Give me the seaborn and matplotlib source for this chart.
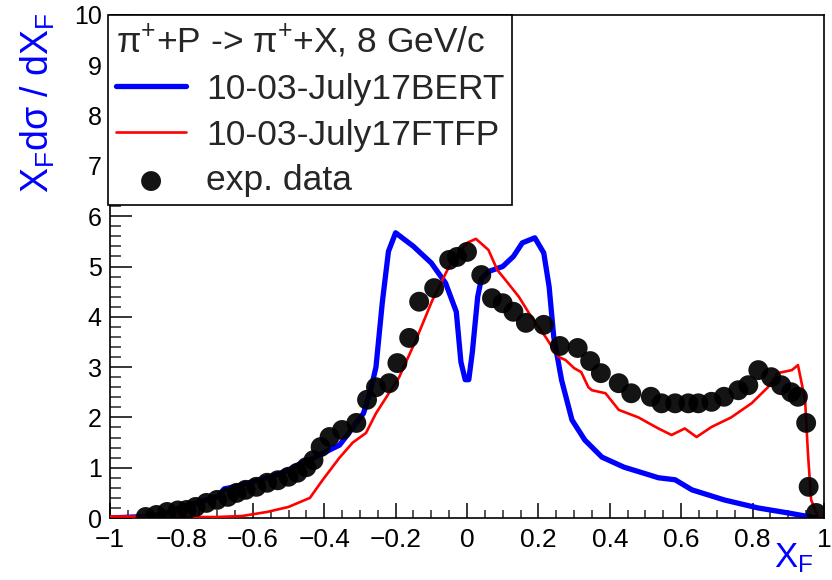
import matplotlib
matplotlib.use("Agg")
import matplotlib.pyplot as plt
import seaborn as sns
import pandas as pd
from matplotlib.ticker import MultipleLocator, FixedLocator

# ---------------- data ----------------
bert_x = [-1.0, -0.9, -0.85, -0.8, -0.75, -0.7, -0.68, -0.65, -0.6, -0.55, -0.5, -0.47, -0.45,
          -0.4, -0.357, -0.33, -0.29, -0.27, -0.255, -0.237, -0.22, -0.2, -0.15, -0.1, -0.06,
          -0.03, -0.017, -0.005, 0.005, 0.015, 0.03, 0.04, 0.06, 0.1, 0.13, 0.155, 0.19, 0.215,
          0.23, 0.243, 0.265, 0.294, 0.33, 0.378, 0.44, 0.5, 0.536, 0.583, 0.63, 0.72, 0.815,
          0.9, 0.955, 0.98]
bert_y = [0.0, 0.03, 0.08, 0.22, 0.32, 0.42, 0.58, 0.62, 0.72, 0.82, 0.95, 1.07, 1.12,
          1.3, 1.45, 1.7, 2.08, 2.54, 3.0, 4.3, 5.3, 5.67, 5.4, 5.07, 4.67,
          4.1, 3.1, 2.75, 2.75, 3.3, 4.4, 4.75, 4.9, 5.0, 5.2, 5.47, 5.57, 5.27,
          4.6, 3.6, 2.74, 1.95, 1.55, 1.21, 1.01, 0.88, 0.8, 0.76, 0.56, 0.36, 0.2,
          0.1, 0.03, 0.0]

ftfp_x = [-1.0, -0.9, -0.8, -0.7, -0.63, -0.56, -0.5, -0.44, -0.405, -0.357, -0.32, -0.283,
          -0.255, -0.19, -0.143, -0.097, -0.05, 0.0, 0.025, 0.06, 0.085, 0.108, 0.145, 0.18,
          0.22, 0.257, 0.276, 0.3, 0.32, 0.34, 0.35, 0.388, 0.425, 0.48, 0.536, 0.573, 0.61,
          0.643, 0.685, 0.74, 0.797, 0.843, 0.87, 0.91, 0.927, 0.947, 0.955, 0.964, 0.983]
ftfp_y = [0.03, 0.03, 0.02, 0.02, 0.04, 0.12, 0.22, 0.4, 0.75, 1.2, 1.5, 1.69,
          2.08, 2.8, 3.54, 4.33, 5.0, 5.47, 5.55, 5.33, 4.93, 4.73, 4.4, 4.0,
          3.6, 3.2, 3.14, 2.98, 2.9, 2.6, 2.54, 2.48, 2.15, 2.0, 1.78, 1.65, 1.78,
          1.61, 1.81, 2.0, 2.28, 2.6, 2.88, 2.94, 3.04, 2.35, 1.29, 0.36, 0.02]

exp_x = [-0.90, -0.87, -0.84, -0.81, -0.785, -0.76, -0.73, -0.70, -0.67, -0.645, -0.62, -0.59,
         -0.56, -0.53, -0.50, -0.475, -0.45, -0.43, -0.41, -0.385, -0.35, -0.31, -0.28, -0.255,
         -0.218, -0.195, -0.162, -0.134, -0.092, -0.05, -0.028, 0.0, 0.04, 0.07, 0.10, 0.13,
         0.165, 0.215, 0.26, 0.31, 0.345, 0.375, 0.425, 0.46, 0.515, 0.545, 0.583, 0.62, 0.648,
         0.685, 0.72, 0.76, 0.788, 0.816, 0.852, 0.88, 0.908, 0.927, 0.95, 0.957, 0.978]
exp_y = [0.02, 0.06, 0.12, 0.15, 0.16, 0.22, 0.3, 0.36, 0.42, 0.5, 0.56, 0.62,
         0.7, 0.75, 0.82, 0.9, 1.01, 1.15, 1.41, 1.61, 1.75, 1.89, 2.35, 2.6,
         2.68, 3.08, 3.58, 4.3, 4.57, 5.13, 5.19, 5.29, 4.83, 4.37, 4.27, 4.1,
         3.88, 3.84, 3.42, 3.38, 3.12, 2.88, 2.68, 2.48, 2.41, 2.28, 2.28, 2.28, 2.28,
         2.31, 2.41, 2.54, 2.64, 2.94, 2.8, 2.64, 2.5, 2.41, 1.89, 0.62, 0.1]

x_ticks = [-1, -0.8, -0.6, -0.4, -0.2, 0, 0.2, 0.4, 0.6, 0.8, 1]
x_tick_labels = ["\u22121", "\u22120.8", "\u22120.6", "\u22120.4", "\u22120.2", "0",
                 "0.2", "0.4", "0.6", "0.8", "1"]
y_ticks = [0, 1, 2, 3, 4, 5, 6, 7, 8, 9, 10]

legend_header = r"$\mathrm{\pi}^{+}$+P -> $\mathrm{\pi}^{+}$+X, 8 GeV/c"
label_bert = "10-03-July17BERT"
label_ftfp = "10-03-July17FTFP"
label_exp = "exp. data"

# ---------------- style ----------------
sns.set_theme(style="white")
plt.rcParams["font.family"] = ["Liberation Sans", "DejaVu Sans"]
plt.rcParams["mathtext.fontset"] = "custom"
plt.rcParams["mathtext.rm"] = "Liberation Sans"
plt.rcParams["mathtext.it"] = "Liberation Sans:italic"
plt.rcParams["mathtext.bf"] = "Liberation Sans:bold"
plt.rcParams["axes.unicode_minus"] = True

W, H = 832, 580
fig = plt.figure(figsize=(W / 100, H / 100), dpi=100)
ax = fig.add_axes([110 / W, 1 - 518 / H, (824 - 110) / W, (518 - 15) / H])

df_b = pd.DataFrame({"x": bert_x, "y": bert_y})
df_f = pd.DataFrame({"x": ftfp_x, "y": ftfp_y})
df_e = pd.DataFrame({"x": exp_x, "y": exp_y})

sns.lineplot(data=df_b, x="x", y="y", ax=ax, color=(0, 0, 1), linewidth=3.8,
             sort=False, label=label_bert, zorder=2)
sns.lineplot(data=df_f, x="x", y="y", ax=ax, color=(1, 0, 0), linewidth=1.9,
             sort=False, label=label_ftfp, zorder=3)
sns.scatterplot(data=df_e, x="x", y="y", ax=ax, color="black", s=205, edgecolor="none",
                label=label_exp, zorder=4, alpha=0.92)

ax.set_xlim(-1, 1)
ax.set_ylim(0, 10)
ax.set_xlabel("")
ax.set_ylabel("")

ax.xaxis.set_major_locator(FixedLocator(x_ticks))
ax.set_xticklabels(x_tick_labels)
ax.xaxis.set_minor_locator(MultipleLocator(0.05))
ax.yaxis.set_major_locator(FixedLocator(y_ticks))
ax.set_yticklabels([str(v) for v in y_ticks])
ax.yaxis.set_minor_locator(MultipleLocator(0.2))

ax.tick_params(axis="x", which="major", direction="in", length=11, width=1.1,
               labelsize=19, pad=7, colors="black", bottom=True, top=False)
ax.tick_params(axis="x", which="minor", direction="in", length=5.5, width=1.1,
               bottom=True, top=False)
ax.tick_params(axis="y", which="major", direction="in", length=16, width=1.1,
               labelsize=18, pad=6, colors="black", left=True, right=False)
ax.tick_params(axis="y", which="minor", direction="in", length=8, width=1.1,
               left=True, right=False)

for sp in ax.spines.values():
    sp.set_visible(True)
    sp.set_color("black")
    sp.set_linewidth(1.2)

leg = ax.legend(loc="upper left", bbox_to_anchor=(-0.003, 1), borderaxespad=0,
                fontsize=25.5, title=legend_header, title_fontsize=25.5,
                alignment="left", frameon=True, fancybox=False, framealpha=1,
                edgecolor="black", handlelength=2.0, handletextpad=0.55,
                labelspacing=0.36, borderpad=0.22, markerscale=1.0)
leg.get_frame().set_linewidth(1.2)
leg.set_zorder(10)

fig.text(38 / W, 1 - 12 / H, r"$\mathrm{X_{F}d\sigma\ /\ dX_{F}}$", rotation=90,
         ha="center", va="top", fontsize=27, color=(0, 0, 1))
fig.text(813 / W, 1 - 567 / H, r"$\mathrm{X_{F}}$", ha="right", va="baseline",
         fontsize=25, color=(0, 0, 1))

fig.savefig("out.png", dpi=100)
